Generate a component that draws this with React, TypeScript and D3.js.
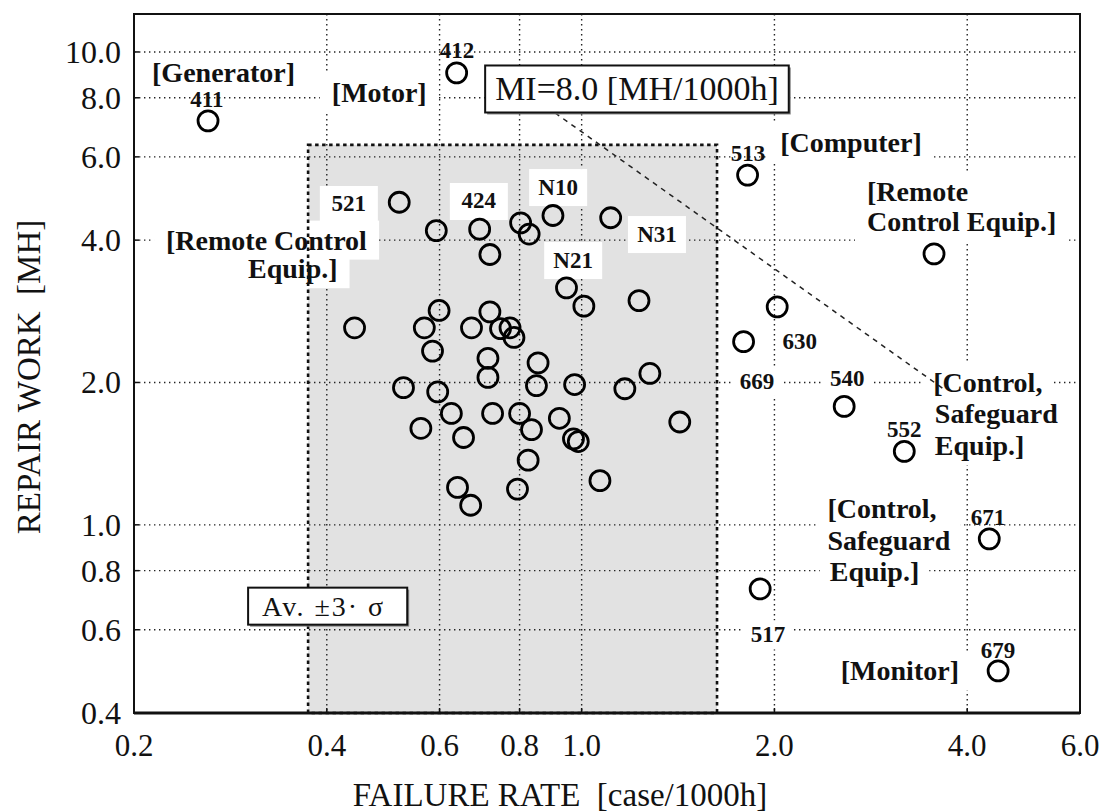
import React, { useEffect, useRef } from 'react';
import * as d3 from 'd3';

const W = 1104;
const H = 812;

// equipment far from the cluster (411, 412, 513, remote, 630, 669, 540, 552, 671, 517, 679)
const equipRate = [0.261, 0.638, 1.816, 3.55, 2.02, 1.79, 2.57, 3.19, 4.33, 1.9, 4.47];
const equipWork = [7.15, 9.03, 5.49, 3.74, 2.89, 2.44, 1.78, 1.43, 0.934, 0.732, 0.491];

// equipment inside the Av. ±3σ band
const clusterRate = [
  0.519, 0.593, 0.693, 0.803, 0.828, 0.902, 1.11, 0.719, 0.947, 1.008, 1.229,
  0.442, 0.599, 0.568, 0.673, 0.719, 0.747, 0.773, 0.784, 0.585, 0.714, 0.855,
  0.714, 0.85, 0.975, 1.278, 1.168, 0.527, 0.596, 1.423, 0.626, 0.726, 0.8,
  0.923, 0.561, 0.654, 0.835, 0.971, 0.988, 0.825, 1.068, 0.64, 0.671, 0.794,
];
const clusterWork = [
  4.81, 4.19, 4.22, 4.35, 4.12, 4.51, 4.46, 3.73, 3.17, 2.9, 2.98,
  2.61, 2.84, 2.61, 2.61, 2.82, 2.6, 2.61, 2.49, 2.33, 2.25, 2.2,
  2.05, 1.97, 1.98, 2.09, 1.94, 1.95, 1.91, 1.65, 1.72, 1.72, 1.72,
  1.68, 1.6, 1.53, 1.59, 1.52, 1.5, 1.37, 1.24, 1.2, 1.1, 1.19,
];

const xTicks = [0.2, 0.4, 0.6, 0.8, 1.0, 2.0, 4.0, 6.0];
const yTicks = [0.4, 0.6, 0.8, 1.0, 2.0, 4.0, 6.0, 8.0, 10.0];
const xGrid = [0.4, 0.6, 0.8, 1.0, 2.0, 4.0];
const yGrid = [0.6, 0.8, 1.0, 2.0, 4.0, 6.0, 8.0, 10.0];

// Av. ±3σ band and MI = 8.0 line
const bandRate = [0.374, 1.627];
const bandWork = [0.4, 6.36];
const miRate = [0.909, 3.69];
const miWork = [7.43, 1.93];

const categoryLabels = [
  { text: '[Generator]', rate: 0.276, work: 9.03, anchor: 'middle', pad: 14 },
  { text: '[Motor]', rate: 0.483, work: 8.19, anchor: 'middle', pad: 12 },
  { text: '[Computer]', rate: 2.634, work: 6.42, anchor: 'middle', pad: 12 },
  { text: '[Remote', rate: 2.79, work: 5.08, anchor: 'start', pad: 12 },
  { text: 'Control Equip.]', rate: 2.79, work: 4.37, anchor: 'start', pad: 12 },
  { text: '[Remote Control', rate: 0.322, work: 4.0, anchor: 'middle', pad: 12 },
  { text: 'Equip.]', rate: 0.354, work: 3.48, anchor: 'middle', pad: 12 },
  { text: '[Control,', rate: 3.54, work: 2.0, anchor: 'start', pad: 10 },
  { text: 'Safeguard', rate: 3.56, work: 1.72, anchor: 'start', pad: 10 },
  { text: 'Equip.]', rate: 3.56, work: 1.47, anchor: 'start', pad: 10 },
  { text: '[Control,', rate: 2.42, work: 1.085, anchor: 'start', pad: 10 },
  { text: 'Safeguard', rate: 2.42, work: 0.928, anchor: 'start', pad: 10 },
  { text: 'Equip.]', rate: 2.44, work: 0.795, anchor: 'start', pad: 10 },
  { text: '[Monitor]', rate: 3.14, work: 0.491, anchor: 'middle', pad: 10 },
];

const idLabels = [
  { text: '411', rate: 0.26, work: 7.92, bg: false },
  { text: '412', rate: 0.639, work: 10.05, bg: false },
  { text: '513', rate: 1.819, work: 6.11, bg: false },
  { text: '630', rate: 2.19, work: 2.44, bg: false },
  { text: '669', rate: 1.879, work: 2.01, bg: true },
  { text: '540', rate: 2.598, work: 2.04, bg: true },
  { text: '552', rate: 3.19, work: 1.59, bg: false },
  { text: '671', rate: 4.31, work: 1.034, bg: false },
  { text: '517', rate: 1.954, work: 0.585, bg: true },
  { text: '679', rate: 4.47, work: 0.543, bg: false },
];

const boxedLabels = [
  { text: '521', rate: 0.433, work: 4.77 },
  { text: '424', rate: 0.691, work: 4.84 },
  { text: 'N10', rate: 0.919, work: 5.18 },
  { text: 'N21', rate: 0.97, work: 3.63 },
  { text: 'N31', rate: 1.311, work: 4.12 },
];

const serif = '"Liberation Serif", "Times New Roman", serif';

const App = () => {
  const svgRef = useRef(null);

  useEffect(() => {
    const svg = d3.select(svgRef.current);
    svg.selectAll('*').remove();

    const left = 134, right = 1080, top = 14, bottom = 713;
    const x = d3.scaleLog().domain([0.2, 6.0]).range([left, right]);
    const y = d3.scaleLog().domain([0.4, 12.03]).range([bottom, top]);

    const gFill = svg.append('g');
    const gGrid = svg.append('g');
    const gBg = svg.append('g');
    const gBorder = svg.append('g');
    const gFrame = svg.append('g');
    const gMarks = svg.append('g');
    const gText = svg.append('g');

    // shaded band
    gFill.append('rect')
      .attr('x', x(bandRate[0]))
      .attr('y', y(bandWork[1]))
      .attr('width', x(bandRate[1]) - x(bandRate[0]))
      .attr('height', y(bandWork[0]) - y(bandWork[1]))
      .attr('fill', '#e2e2e2');

    // grid
    xGrid.forEach(v => {
      gGrid.append('line')
        .attr('x1', x(v)).attr('x2', x(v))
        .attr('y1', top).attr('y2', bottom)
        .attr('stroke', '#222').attr('stroke-width', 1.4)
        .attr('stroke-dasharray', '1.4,3.6');
    });
    yGrid.forEach(v => {
      gGrid.append('line')
        .attr('x1', left).attr('x2', right)
        .attr('y1', y(v)).attr('y2', y(v))
        .attr('stroke', '#222').attr('stroke-width', 1.4)
        .attr('stroke-dasharray', '1.4,3.6');
    });

    const addText = (txt, px, py, opts) => gText.append('text')
      .attr('x', px).attr('y', py)
      .attr('text-anchor', opts.anchor || 'middle')
      .attr('dominant-baseline', 'central')
      .style('font-family', serif)
      .style('font-size', `${opts.size}px`)
      .style('font-weight', opts.bold ? 'bold' : 'normal')
      .style('letter-spacing', `${opts.spacing || 0}px`)
      .style('white-space', 'pre')
      .attr('fill', '#111')
      .text(txt);

    // white patch behind a label
    const addBg = (t, padX, padY) => {
      const b = t.node().getBBox();
      gBg.append('rect')
        .attr('x', b.x - padX).attr('y', b.y - padY)
        .attr('width', b.width + padX * 2).attr('height', b.height + padY * 2)
        .attr('fill', '#fff');
    };

    categoryLabels.forEach(d => {
      const t = addText(d.text, x(d.rate), y(d.work), { size: 28, bold: true, anchor: d.anchor });
      addBg(t, d.pad, 4);
    });

    idLabels.forEach(d => {
      const t = addText(d.text, x(d.rate), y(d.work), { size: 23, bold: true });
      if (d.bg) addBg(t, 8, 2);
    });

    boxedLabels.forEach(d => {
      addText(d.text, x(d.rate), y(d.work), { size: 23, bold: true });
      gBg.append('rect')
        .attr('x', x(d.rate) - 29).attr('y', y(d.work) - 18)
        .attr('width', 58).attr('height', 37)
        .attr('fill', '#fff');
    });

    // framed notes with a slight shadow
    const framed = (txt, rate, work, size, anchor, spacing, padL, padR, padY) => {
      const t = addText(txt, x(rate), y(work), { size, bold: false, anchor, spacing });
      const b = t.node().getBBox();
      const bx = b.x - padL, by = b.y - padY;
      const bw = b.width + padL + padR, bh = b.height + padY * 2;
      gFrame.append('rect')
        .attr('x', bx + 2).attr('y', by + 2).attr('width', bw).attr('height', bh)
        .attr('fill', '#888');
      gFrame.append('rect')
        .attr('x', bx).attr('y', by).attr('width', bw).attr('height', bh)
        .attr('fill', '#fff').attr('stroke', '#111').attr('stroke-width', 2);
    };
    framed('MI=8.0 [MH/1000h]', 1.22, 8.35, 34, 'middle', 0, 10, 10, 5);
    framed('Av. ±3· σ', 0.317, 0.673, 28, 'start', 2, 14, 22, 3);

    // band border
    gBorder.append('rect')
      .attr('x', x(bandRate[0]))
      .attr('y', y(bandWork[1]))
      .attr('width', x(bandRate[1]) - x(bandRate[0]))
      .attr('height', y(bandWork[0]) - y(bandWork[1]))
      .attr('fill', 'none')
      .attr('stroke', '#111').attr('stroke-width', 2.6)
      .attr('stroke-dasharray', '3.5,3.5');

    // MI line
    gBorder.append('line')
      .attr('x1', x(miRate[0])).attr('y1', y(miWork[0]))
      .attr('x2', x(miRate[1])).attr('y2', y(miWork[1]))
      .attr('stroke', '#222').attr('stroke-width', 1.5)
      .attr('stroke-dasharray', '5,5');

    // points
    const pts = [
      ...equipRate.map((r, i) => [r, equipWork[i]]),
      ...clusterRate.map((r, i) => [r, clusterWork[i]]),
    ];
    gMarks.selectAll('circle')
      .data(pts)
      .enter()
      .append('circle')
      .attr('cx', d => x(d[0]))
      .attr('cy', d => y(d[1]))
      .attr('r', 10)
      .attr('fill', 'none')
      .attr('stroke', '#000')
      .attr('stroke-width', 2.8);

    // frame and ticks
    gMarks.append('rect')
      .attr('x', left).attr('y', top)
      .attr('width', right - left).attr('height', bottom - top)
      .attr('fill', 'none').attr('stroke', '#111').attr('stroke-width', 2);
    gMarks.append('line')
      .attr('x1', left).attr('x2', right).attr('y1', bottom).attr('y2', bottom)
      .attr('stroke', '#111').attr('stroke-width', 3);

    yTicks.forEach(v => {
      gMarks.append('line')
        .attr('x1', left).attr('x2', left + 5)
        .attr('y1', y(v)).attr('y2', y(v))
        .attr('stroke', '#111').attr('stroke-width', 1.5);
      svg.append('text')
        .attr('x', 121).attr('y', y(v))
        .attr('text-anchor', 'end')
        .attr('dominant-baseline', 'central')
        .style('font-family', serif)
        .style('font-size', '32px')
        .attr('fill', '#111')
        .text(d3.format('.1f')(v));
    });
    xTicks.forEach(v => {
      gMarks.append('line')
        .attr('x1', x(v)).attr('x2', x(v))
        .attr('y1', bottom).attr('y2', bottom - 5)
        .attr('stroke', '#111').attr('stroke-width', 1.5);
      svg.append('text')
        .attr('x', x(v)).attr('y', 745)
        .attr('text-anchor', 'middle')
        .attr('dominant-baseline', 'central')
        .style('font-family', serif)
        .style('font-size', '31px')
        .attr('fill', '#111')
        .text(d3.format('.1f')(v));
    });

    // axis titles
    svg.append('text')
      .attr('transform', 'translate(40,377) rotate(-90)')
      .attr('text-anchor', 'middle')
      .style('font-family', serif)
      .style('font-size', '33px')
      .style('white-space', 'pre')
      .attr('fill', '#111')
      .text('REPAIR WORK  [MH]');
    svg.append('text')
      .attr('x', 560).attr('y', 806)
      .attr('text-anchor', 'middle')
      .style('font-family', serif)
      .style('font-size', '33px')
      .style('white-space', 'pre')
      .attr('fill', '#111')
      .text('FAILURE RATE  [case/1000h]');
  }, []);

  return (
    <svg
      ref={svgRef}
      width={W}
      height={H}
      style={{ position: 'absolute', left: 0, top: 0, background: '#fff' }}
    />
  );
};

export default App;
